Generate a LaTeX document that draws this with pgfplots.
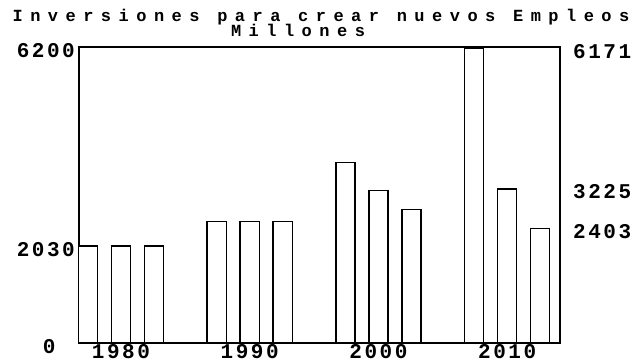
\documentclass[border=0pt]{standalone}
\usepackage{fontspec}
\usepackage{pgfplots}
\pgfplotsset{compat=1.18}
\setmainfont{Liberation Mono}
\newfontfamily\titlefont{Liberation Mono}[LetterSpace=44]
\newfontfamily\numfont{Liberation Mono}[LetterSpace=12]
\begin{document}
\begin{tikzpicture}[x=1bp,y=1bp]
\begin{axis}[
  at={(79bp,19bp)}, anchor=south west,
  width=481bp, height=296bp, scale only axis,
  xmin=-0.27, xmax=14.3, ymin=0, ymax=6200,
  axis line style={black, line width=1.2pt},
  ybar, bar width=0.58,
  xtick={1,4.9,8.8,12.7},
  xticklabels={1980,1990,2000,2010},
  ytick={0,2030,6200},
  yticklabels={\makebox[32bp][l]{0},2030,6200},
  major tick length=0pt,
  tick label style={font=\numfont\fontsize{21bp}{22bp}\selectfont\bfseries},
  /pgf/number format/assume math mode=true,
  xticklabel style={anchor=north, inner sep=0pt, yshift=-1bp},
  yticklabel style={anchor=east, inner sep=0pt, xshift=-4bp, yshift=-4bp},
]
\addplot[draw=black, fill=white, line width=1.4pt] coordinates {
  (0,2030) (1,2030) (2,2030)
  (3.9,2550) (4.9,2550) (5.9,2550)
  (7.8,3785) (8.8,3200) (9.8,2800)
  (11.7,6171) (12.7,3225) (13.7,2403)
};
\end{axis}
\begin{axis}[
  at={(79bp,19bp)}, anchor=south west,
  width=481bp, height=296bp, scale only axis,
  xmin=-0.27, xmax=14.3, ymin=0, ymax=6200,
  axis x line=none, axis y line*=right,
  y axis line style={draw=none},
  ytick={2403,3225,6171},
  major tick length=0pt,
  tick label style={font=\numfont\fontsize{21bp}{22bp}\selectfont\bfseries},
  /pgf/number format/assume math mode=true,
  yticklabel style={anchor=west, inner sep=0pt, xshift=13bp, yshift=-3bp,
    /pgf/number format/1000 sep={}},
]
\addplot[draw=none, forget plot] coordinates {(0,0)};
\end{axis}
\node[anchor=base, font=\titlefont\fontsize{17bp}{18bp}\selectfont\bfseries]
  at (321,341) {Inversiones para crear nuevos Empleos};
\node[anchor=base, font=\titlefont\fontsize{17bp}{18bp}\selectfont\bfseries]
  at (298,326) {Millones};
\pgfresetboundingbox
\useasboundingbox (0,0) rectangle (635,362);
\end{tikzpicture}
\end{document}
